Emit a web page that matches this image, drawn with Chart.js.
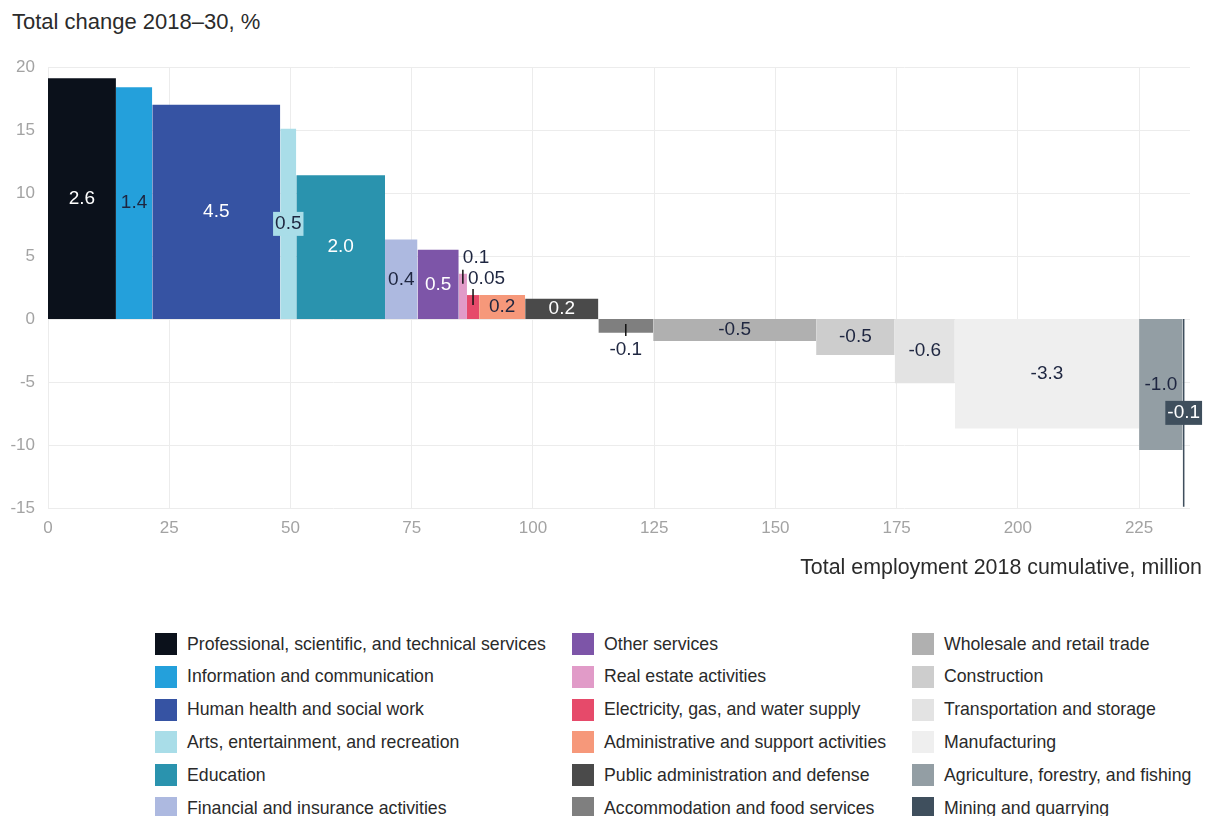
<!DOCTYPE html>
<html>
<head>
<meta charset="utf-8">
<script src="https://cdn.jsdelivr.net/npm/chart.js@4.4.1/dist/chart.umd.min.js"></script>
<style>
  html, body { margin: 0; padding: 0; background: #fff; }
  body { width: 1206px; height: 816px; overflow: hidden; position: relative;
         font-family: "Liberation Sans", Arial, sans-serif; color: #222; }
  #chartTitle { position: absolute; left: 12px; top: 9px; font-size: 22px; color: #2b2b2b; }
  #xTitle { position: absolute; right: 4px; top: 555px; font-size: 21.4px; color: #2b2b2b; }
  #chart { position: absolute; left: 0; top: 0; }
  #legend { position: absolute; top: 633px; left: 0; width: 1206px; }
  .lg-item { position: absolute; display: flex; align-items: center; height: 22px; font-size: 17.7px; color: #2a2a2a; white-space: nowrap; }
  .lg-box { width: 22px; height: 22px; margin-right: 10px; flex: none; }
</style>
</head>
<body>
<div id="chartTitle">Total change 2018–30, %</div>
<canvas id="chart" width="1206" height="600"></canvas>
<div id="xTitle">Total employment 2018 cumulative, million</div>
<div id="legend"></div>

<script>
// sectors, left to right
const sectors = [
    'Professional, scientific, and technical services',
    'Information and communication',
    'Human health and social work',
    'Arts, entertainment, and recreation',
    'Education',
    'Financial and insurance activities',
    'Other services',
    'Real estate activities',
    'Electricity, gas, and water supply',
    'Administrative and support activities',
    'Public administration and defense',
    'Accommodation and food services',
    'Wholesale and retail trade',
    'Construction',
    'Transportation and storage',
    'Manufacturing',
    'Agriculture, forestry, and fishing',
    'Mining and quarrying'
];

// employment 2018, million (bar width)
const employment = [14.0, 7.5, 26.4, 3.3, 18.3, 6.7, 8.5, 1.7, 2.5, 9.5, 15.1, 11.3, 33.6, 16.2, 12.4, 38.0, 9.0, 0.4];

// total change 2018-30, % (bar height)
const changePct = [19.1, 18.4, 17.0, 15.1, 11.4, 6.3, 5.5, 3.6, 1.9, 1.9, 1.6, -1.1, -1.75, -2.85, -5.1, -8.7, -10.4, -14.9];

// labels written on the bars
const barLabels = ['2.6', '1.4', '4.5', '0.5', '2.0', '0.4', '0.5', '0.1', '0.05', '0.2', '0.2', '-0.1', '-0.5', '-0.5', '-0.6', '-3.3', '-1.0', '-0.1'];

const colors = [
    '#0b111b', '#24a0db', '#3653a3', '#a9dde8', '#2a93ae', '#adb9e0',
    '#7d55a8', '#e19bc8', '#e64a6a', '#f6987a', '#4a4a4a', '#7f7f7f',
    '#b0b0b0', '#cdcdcd', '#e3e3e3', '#efefef', '#939ea4', '#3f4f5d'
];

const xTicks = [0, 25, 50, 75, 100, 125, 150, 175, 200, 225];
const yTicks = [-15, -10, -5, 0, 5, 10, 15, 20];

// how each label is drawn
const darkText  = '#1e2640';
const lightText = '#ffffff';
const labelStyle = [
    { color: lightText }, { color: darkText }, { color: lightText },
    { color: darkText, box: '#a9dde8' }, { color: lightText }, { color: darkText },
    { color: lightText },
    { color: darkText, callout: 'above', tick: [-4, 10], dx: 0, dy: -16 },
    { color: darkText, callout: 'above', tick: [-6, 10], dx: -5, dy: -16 },
    { color: darkText }, { color: lightText },
    { color: darkText, callout: 'below', tick: [5, 17], dy: 31 },
    { color: darkText }, { color: darkText }, { color: darkText },
    { color: darkText }, { color: darkText }, { color: lightText, box: '#3f4f5d' }
];


// left edges from cumulative employment
const starts = [];
employment.reduce((acc, w) => { starts.push(acc); return acc + w; }, 0);

const datasets = sectors.map((name, i) => ({
    label: name,
    data: [{ x: starts[i], y: changePct[i] }, { x: starts[i] + employment[i], y: changePct[i] }],
    backgroundColor: colors[i],
    borderColor: 'rgba(0,0,0,0)',
    borderWidth: 0,
    pointRadius: 0,
    fill: 'origin',
    tension: 0
}));


const barLabelPlugin = {
    id: 'barLabels',
    afterDatasetsDraw(chart) {
        const { ctx, scales: { x, y } } = chart;
        ctx.save();
        ctx.font = '19px "Liberation Sans", Arial, sans-serif';
        ctx.textBaseline = 'middle';
        barLabels.forEach((txt, i) => {
            const st  = labelStyle[i];
            const x0  = x.getPixelForValue(starts[i]);
            const x1  = x.getPixelForValue(starts[i] + employment[i]);
            const cx  = (x0 + x1) / 2;
            const top = y.getPixelForValue(changePct[i]);
            const y0  = y.getPixelForValue(0);
            const cy  = (top + y0) / 2;

            if (st.callout === 'above') {
                ctx.strokeStyle = '#111';
                ctx.lineWidth = 1.5;
                ctx.beginPath();
                ctx.moveTo(cx, top + st.tick[0]);
                ctx.lineTo(cx, top + st.tick[1]);
                ctx.stroke();
                ctx.fillStyle = st.color;
                ctx.textAlign = 'left';
                ctx.fillText(txt, cx + st.dx, top + st.dy);
                return;
            }
            if (st.callout === 'below') {
                ctx.strokeStyle = '#111';
                ctx.lineWidth = 1.5;
                ctx.beginPath();
                ctx.moveTo(cx, y0 + st.tick[0]);
                ctx.lineTo(cx, y0 + st.tick[1]);
                ctx.stroke();
                ctx.fillStyle = st.color;
                ctx.textAlign = 'center';
                ctx.fillText(txt, cx, y0 + st.dy);
                return;
            }
            if (st.box) {
                const w = ctx.measureText(txt).width + 4;
                ctx.fillStyle = st.box;
                ctx.fillRect(cx - w / 2, cy - 12, w, 24);
            }
            ctx.fillStyle = st.color;
            ctx.textAlign = 'center';
            ctx.fillText(txt, cx, cy + (st.dy || 0));
        });
        ctx.restore();
    }
};


new Chart(document.getElementById('chart').getContext('2d'), {
    type: 'line',
    data: { datasets },
    plugins: [barLabelPlugin],
    options: {
        responsive: false,
        animation: false,
        layout: { padding: { top: 67, right: 16, left: 0, bottom: 0 } },
        plugins: { legend: { display: false }, tooltip: { enabled: false } },
        scales: {
            x: {
                type: 'linear',
                min: 0,
                max: 235.5,
                afterFit: s => { s.height = 92; },
                afterBuildTicks: s => { s.ticks = xTicks.map(v => ({ value: v })); },
                ticks: { color: '#a3a3a3', font: { size: 17, family: '"Liberation Sans", Arial' }, padding: 10, maxRotation: 0 },
                grid: { color: '#ececec', drawTicks: false },
                border: { display: false }
            },
            y: {
                min: -15,
                max: 20,
                afterFit: s => { s.width = 48; },
                afterBuildTicks: s => { s.ticks = yTicks.map(v => ({ value: v })); },
                ticks: { color: '#a3a3a3', font: { size: 17, family: '"Liberation Sans", Arial' }, padding: 13 },
                grid: { color: '#ececec', drawTicks: false },
                border: { display: false }
            }
        }
    }
});


// legend, three columns filled top to bottom
const legend = document.getElementById('legend');
const colLeft = [155, 572, 912];
sectors.forEach((name, i) => {
    const col = Math.floor(i / 6), row = i % 6;
    const item = document.createElement('div');
    item.className = 'lg-item';
    item.style.left = colLeft[col] + 'px';
    item.style.top  = (row * 32.8) + 'px';
    const box = document.createElement('span');
    box.className = 'lg-box';
    box.style.background = colors[i];
    const txt = document.createElement('span');
    txt.textContent = name;
    item.appendChild(box);
    item.appendChild(txt);
    legend.appendChild(item);
});
</script>
</body>
</html>
